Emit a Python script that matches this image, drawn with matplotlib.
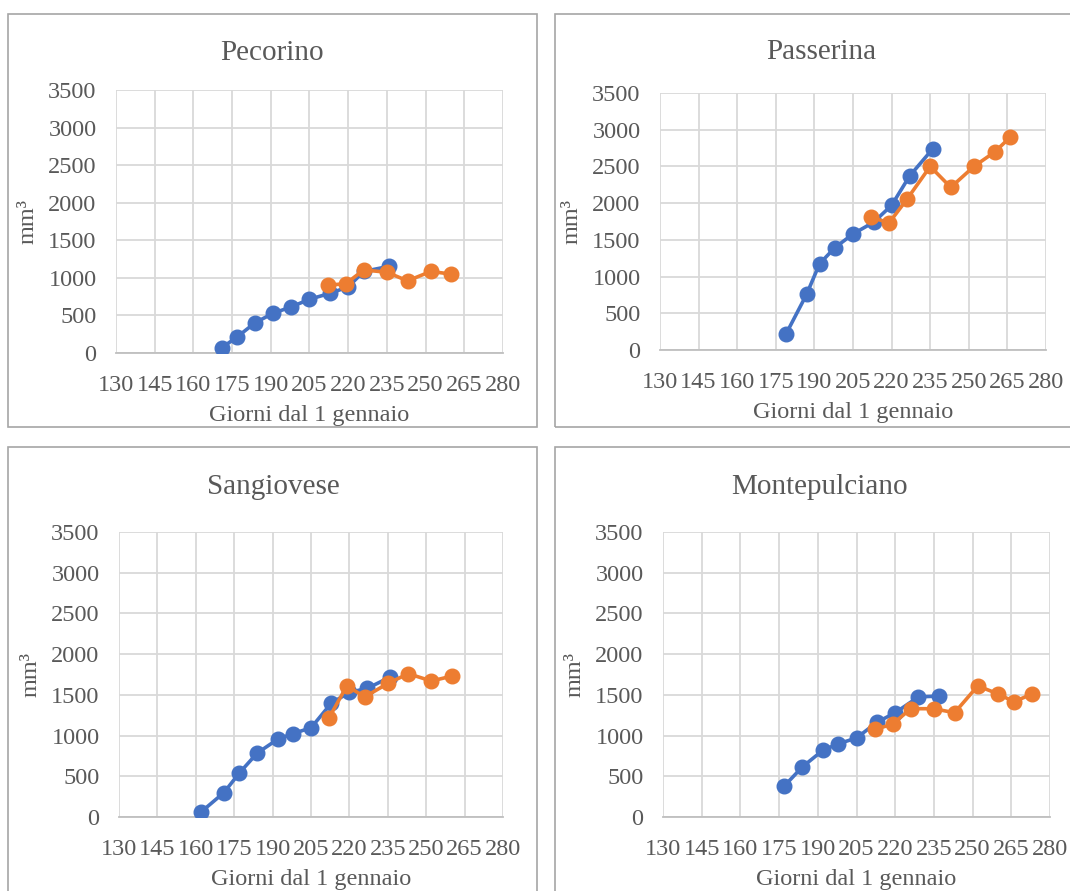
import matplotlib
matplotlib.use('Agg')
import matplotlib.pyplot as plt
from matplotlib.patches import Rectangle

plt.rcParams['font.family'] = ['Liberation Serif', 'DejaVu Serif']

# Data: days since 1 January and volume (mm3), two series per variety
pecorino_days_a = [171, 177, 184, 191, 198, 205, 213, 220, 226, 236]
pecorino_vol_a = [70, 215, 405, 530, 615, 715, 795, 880, 1085, 1155]
pecorino_days_b = [212, 219, 226, 235, 243, 252, 260]
pecorino_vol_b = [905, 920, 1105, 1075, 960, 1085, 1050]

passerina_days_a = [179, 187, 192, 198, 205, 213, 220, 227, 236]
passerina_vol_a = [220, 760, 1175, 1395, 1580, 1740, 1970, 2370, 2740]
passerina_days_b = [212, 219, 226, 235, 243, 252, 260, 266]
passerina_vol_b = [1810, 1730, 2055, 2500, 2215, 2500, 2695, 2895]

sangiovese_days_a = [162, 171, 177, 184, 192, 198, 205, 213, 220, 227, 236]
sangiovese_vol_a = [60, 300, 540, 785, 955, 1025, 1095, 1400, 1530, 1580, 1720]
sangiovese_days_b = [212, 219, 226, 235, 243, 252, 260]
sangiovese_vol_b = [1215, 1610, 1475, 1640, 1760, 1670, 1730]

montepulciano_days_a = [177, 184, 192, 198, 205, 213, 220, 229, 237]
montepulciano_vol_a = [380, 615, 820, 900, 970, 1165, 1280, 1475, 1485]
montepulciano_days_b = [212, 219, 226, 235, 243, 252, 260, 266, 273]
montepulciano_vol_b = [1075, 1140, 1330, 1330, 1280, 1610, 1510, 1415, 1510]

x_ticks = list(range(130, 281, 15))
y_ticks = list(range(0, 3501, 500))

W, H = 1070, 891
fig = plt.figure(figsize=(W / 100, H / 100), dpi=100)

text_col = '#595959'
blue = '#4472C4'
orange = '#ED7D31'


def px_rect(x0, y0, x1, y1):
    # pixel box (top-left origin) -> figure fraction [left, bottom, width, height]
    return [x0 / W, 1 - y1 / H, (x1 - x0) / W, (y1 - y0) / H]


# panel frames
for (x0, y0, x1, y1) in [(8, 14, 537, 427), (555, 14, 1080, 427),
                         (8, 447, 537, 900), (555, 447, 1080, 900)]:
    l, b, w, h = px_rect(x0, y0, x1, y1)
    fig.add_artist(Rectangle((l, b), w, h, transform=fig.transFigure,
                             fill=False, edgecolor='#a6a6a6', linewidth=1.2))

panels = [
    ('Pecorino', (116, 90, 503, 353), (272, 53),
     pecorino_days_a, pecorino_vol_a, pecorino_days_b, pecorino_vol_b),
    ('Passerina', (660, 93, 1046, 350), (821, 52),
     passerina_days_a, passerina_vol_a, passerina_days_b, passerina_vol_b),
    ('Sangiovese', (119, 532, 503, 817), (273, 487),
     sangiovese_days_a, sangiovese_vol_a, sangiovese_days_b, sangiovese_vol_b),
    ('Montepulciano', (663, 532, 1050, 817), (820, 487),
     montepulciano_days_a, montepulciano_vol_a, montepulciano_days_b, montepulciano_vol_b),
]

for title, box, tpos, xa, ya, xb, yb in panels:
    ax = fig.add_axes(px_rect(*box))
    ax.plot(xa, ya, color=blue, linewidth=2.6, marker='o', markersize=10.5, zorder=3)
    ax.plot(xb, yb, color=orange, linewidth=2.6, marker='o', markersize=10.5, zorder=4)
    ax.set_xlim(130, 280)
    ax.set_ylim(0, 3500)
    ax.set_xticks(x_ticks)
    ax.set_yticks(y_ticks)
    ax.grid(True, color='#d9d9d9', linewidth=1.3)
    ax.set_axisbelow(True)
    for s in ['top', 'right', 'left']:
        ax.spines[s].set_visible(False)
    ax.spines['bottom'].set_color('#bfbfbf')
    ax.spines['bottom'].set_linewidth(1.3)
    ax.tick_params(length=0, labelsize=17.5, labelcolor=text_col)
    ax.tick_params(axis='y', pad=14)
    ax.tick_params(axis='x', pad=16)
    ax.set_xlabel('Giorni dal 1 gennaio', fontsize=17.5, color=text_col, labelpad=6)
    ax.set_ylabel('mm³', fontsize=17.5, color=text_col, labelpad=7)
    fig.text(tpos[0] / W, 1 - tpos[1] / H, title, fontsize=21, color=text_col,
             ha='center', va='center')

fig.savefig('out.png', dpi=100)
